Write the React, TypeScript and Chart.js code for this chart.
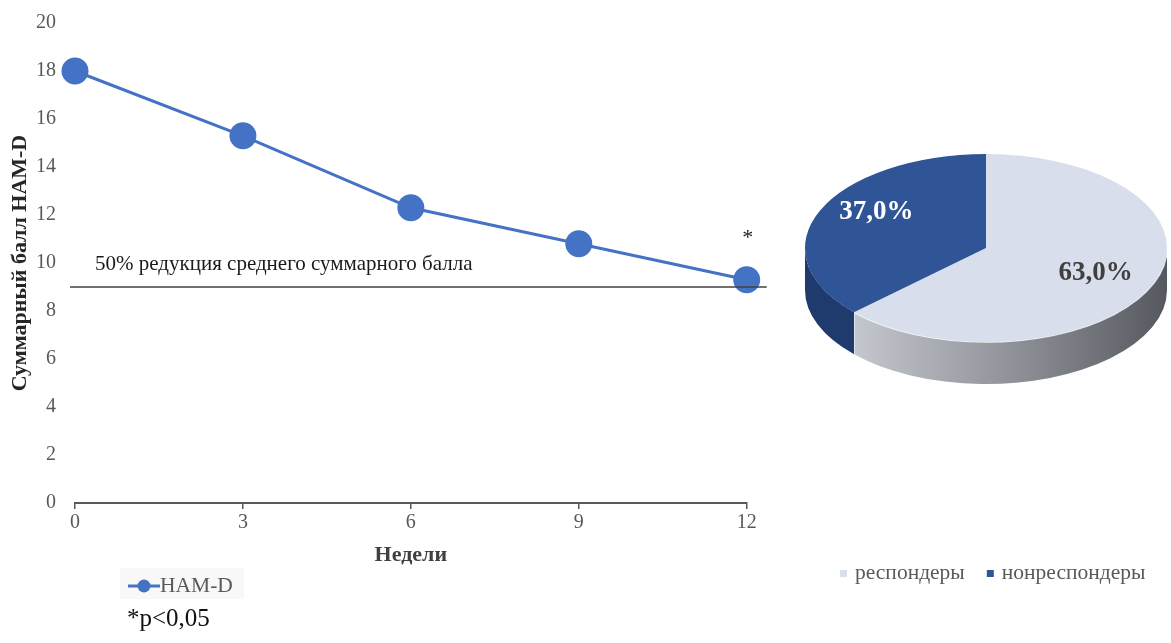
import { useEffect, useRef } from 'react';
import { Chart, registerables } from 'chart.js';

Chart.register(...registerables);

const SERIF = "'Liberation Serif', 'Times New Roman', serif";

// HAM-D total score by week of treatment
const weeks = ['0', '3', '6', '9', '12'];
const hamdScores = [18.0, 15.3, 12.3, 10.8, 9.3];
const halfReduction = 9.0; // 50% of the baseline mean score
const yMin = 0;
const yMax = 20;
const yStep = 2;

// Responders vs non-responders at week 12
const responseGroups = ['респондеры', 'нонреспондеры'];
const responseShares = [63.0, 37.0];

const BLUE = '#4472C4';
const GREY_TEXT = '#595959';
const pieTopColors = ['#d8deec', '#2f5597'];
const pieLabelColors = ['#404040', '#ffffff'];

// Reference line, its caption, the significance mark and the legend
const lineExtras = {
  id: 'lineExtras',
  afterDatasetsDraw(chart: any) {
    const { ctx, scales } = chart;
    const xs = scales.x;
    const ys = scales.y;
    const yRef = ys.getPixelForValue(halfReduction);
    const xStart = xs.getPixelForValue(0) - 5;
    const xEnd = xs.getPixelForValue(weeks.length - 1) + 20;
    ctx.save();
    ctx.strokeStyle = '#404040';
    ctx.lineWidth = 1.5;
    ctx.beginPath();
    ctx.moveTo(xStart, yRef);
    ctx.lineTo(xEnd, yRef);
    ctx.stroke();

    ctx.fillStyle = '#1a1a1a';
    ctx.font = `21px ${SERIF}`;
    ctx.textAlign = 'left';
    ctx.textBaseline = 'alphabetic';
    ctx.fillText('50% редукция среднего суммарного балла', xs.getPixelForValue(0) + 20, yRef - 17.5);

    const last = hamdScores.length - 1;
    ctx.textAlign = 'center';
    ctx.font = `22px ${SERIF}`;
    ctx.fillText('*', xs.getPixelForValue(last) + 1, ys.getPixelForValue(hamdScores[last]) - 36);
    ctx.restore();
  },
  afterDraw(chart: any) {
    const { ctx } = chart;
    const ds = chart.data.datasets[0];
    ctx.save();
    ctx.fillStyle = '#f8f8f8';
    ctx.fillRect(120, 568, 124, 31);
    ctx.strokeStyle = ds.borderColor;
    ctx.lineWidth = 3;
    ctx.beginPath();
    ctx.moveTo(128, 586);
    ctx.lineTo(160, 586);
    ctx.stroke();
    ctx.fillStyle = ds.backgroundColor;
    ctx.beginPath();
    ctx.arc(144, 586, 6.5, 0, Math.PI * 2);
    ctx.fill();
    ctx.fillStyle = GREY_TEXT;
    ctx.font = `21.5px ${SERIF}`;
    ctx.textAlign = 'left';
    ctx.textBaseline = 'alphabetic';
    ctx.fillText(ds.label, 160, 592);

    ctx.fillStyle = '#111111';
    ctx.font = `25px ${SERIF}`;
    ctx.fillText('*p<0,05', 127, 626);
    ctx.restore();
  },
};

// Tilted pie: squashes the arcs into an ellipse and adds the front wall
const pie3d = {
  id: 'pie3d',
  beforeDatasetsDraw(chart: any, _args: any, opts: any) {
    const { ctx } = chart;
    const arcs = chart.getDatasetMeta(0).data;
    if (!arcs.length) return;
    const { x: cx, y: cy, outerRadius: r } = arcs[0].getProps(['x', 'y', 'outerRadius'], true);
    const k = opts.tilt;
    const depth = opts.depth;
    const ry = r * k;
    ctx.save();
    arcs.forEach((arc: any, i: number) => {
      const { startAngle, endAngle } = arc.getProps(['startAngle', 'endAngle'], true);
      [-2 * Math.PI, 0, 2 * Math.PI].forEach((shift) => {
        const lo = Math.max(startAngle + shift, 0);
        const hi = Math.min(endAngle + shift, Math.PI);
        if (hi <= lo) return;
        ctx.beginPath();
        ctx.ellipse(cx, cy, r, ry, 0, lo, hi, false);
        ctx.ellipse(cx, cy + depth, r, ry, 0, hi, lo, true);
        ctx.closePath();
        if (i === 0) {
          const g = ctx.createLinearGradient(cx + r * Math.cos(hi), 0, cx + r * Math.cos(lo), 0);
          g.addColorStop(0, '#c4c7ce');
          g.addColorStop(0.55, '#8a8d94');
          g.addColorStop(1, '#55585e');
          ctx.fillStyle = g;
        } else {
          ctx.fillStyle = '#1f3b6d';
        }
        ctx.fill();
        if (i === 0) {
          // light rim along the top edge of the front wall
          ctx.strokeStyle = 'rgba(255,255,255,0.85)';
          ctx.lineWidth = 1.5;
          ctx.beginPath();
          ctx.ellipse(cx, cy, r, ry, 0, lo, hi, false);
          ctx.stroke();
          const bx = cx + r * Math.cos(hi);
          const by = cy + ry * Math.sin(hi);
          ctx.beginPath();
          ctx.moveTo(bx, by);
          ctx.lineTo(bx, by + depth);
          ctx.stroke();
        }
      });
    });
    ctx.translate(cx, cy);
    ctx.scale(1, k);
    ctx.translate(-cx, -cy);
  },
  afterDatasetsDraw(chart: any, _args: any, opts: any) {
    const { ctx } = chart;
    ctx.restore();
    const arcs = chart.getDatasetMeta(0).data;
    const values = chart.data.datasets[0].data;
    ctx.save();
    ctx.font = `bold 27px ${SERIF}`;
    ctx.textAlign = 'center';
    ctx.textBaseline = 'middle';
    arcs.forEach((arc: any, i: number) => {
      const { x, y, startAngle, endAngle, outerRadius } = arc.getProps(
        ['x', 'y', 'startAngle', 'endAngle', 'outerRadius'],
        true
      );
      const mid = (startAngle + endAngle) / 2;
      const f = 0.66;
      const lx = x + Math.cos(mid) * outerRadius * f;
      // labels on the far half sit a little higher, as in a perspective view
      const lift = Math.sin(mid) < 0 ? opts.backLift : 0;
      const ly = y + Math.sin(mid) * outerRadius * opts.tilt * f - lift;
      ctx.fillStyle = pieLabelColors[i];
      ctx.fillText(values[i].toFixed(1).replace('.', ',') + '%', lx, ly);
    });
    ctx.restore();
  },
  afterDraw(chart: any) {
    const { ctx } = chart;
    const labels = chart.data.labels;
    const colors = chart.data.datasets[0].backgroundColor;
    ctx.save();
    ctx.font = `21.5px ${SERIF}`;
    ctx.textAlign = 'left';
    ctx.textBaseline = 'alphabetic';
    let x = 50;
    labels.forEach((label: string, i: number) => {
      ctx.fillStyle = colors[i];
      ctx.fillRect(x, 570, 7, 7);
      ctx.fillStyle = GREY_TEXT;
      ctx.fillText(label, x + 15, 579);
      x += 15 + ctx.measureText(label).width + 22;
    });
    ctx.restore();
  },
};

export default function App() {
  const lineRef = useRef<HTMLCanvasElement>(null);
  const pieRef = useRef<HTMLCanvasElement>(null);

  useEffect(() => {
    Chart.defaults.font.family = SERIF;

    const lineChart = new Chart(lineRef.current as HTMLCanvasElement, {
      type: 'line',
      data: {
        labels: weeks,
        datasets: [
          {
            label: 'HAM-D',
            data: hamdScores,
            borderColor: BLUE,
            backgroundColor: BLUE,
            borderWidth: 3,
            pointRadius: 13.5,
            pointHoverRadius: 13.5,
            pointBorderWidth: 0,
            pointBackgroundColor: BLUE,
            tension: 0,
            clip: false,
          } as any,
        ],
      },
      options: {
        animation: false,
        responsive: false,
        events: [],
        layout: { padding: { left: 0, right: 43.3, top: 23, bottom: 74 } },
        plugins: { legend: { display: false }, tooltip: { enabled: false } },
        scales: {
          x: {
            type: 'category',
            offset: false,
            grid: {
              drawOnChartArea: false,
              drawTicks: true,
              tickLength: 6,
              color: GREY_TEXT,
              lineWidth: 1.5,
            },
            border: { display: true, color: GREY_TEXT, width: 2 },
            ticks: { color: GREY_TEXT, font: { size: 20, family: SERIF }, padding: 2, maxRotation: 0 },
            title: {
              display: true,
              text: 'Недели',
              color: '#404040',
              font: { size: 22, weight: 'bold', family: SERIF },
              padding: { top: 0, bottom: 0 },
            },
            afterFit(scale: any) {
              scale.height = 66;
              scale.paddingLeft = 0;
              scale.paddingRight = 0;
            },
          },
          y: {
            min: yMin,
            max: yMax,
            grid: { display: false, drawTicks: false },
            border: { display: false },
            ticks: { stepSize: yStep, color: GREY_TEXT, font: { size: 20, family: SERIF }, padding: 19 },
            title: {
              display: true,
              text: 'Суммарный балл HAM-D',
              color: '#262626',
              font: { size: 22, weight: 'bold', family: SERIF },
              padding: { top: 7.5, bottom: 0 },
            },
            afterFit(scale: any) {
              scale.width = 75;
              scale.paddingTop = 0;
              scale.paddingBottom = 0;
            },
          },
        },
      },
      plugins: [lineExtras],
    });

    const pieChart = new Chart(pieRef.current as HTMLCanvasElement, {
      type: 'pie',
      data: {
        labels: responseGroups,
        datasets: [
          {
            data: responseShares,
            backgroundColor: pieTopColors,
            borderWidth: 0,
          },
        ],
      },
      options: {
        animation: false,
        responsive: false,
        events: [],
        layout: { padding: { left: 15, right: 4, top: 67, bottom: 214 } },
        plugins: {
          legend: { display: false },
          tooltip: { enabled: false },
          pie3d: { tilt: 94 / 181, depth: 42, backLift: 11 },
        } as any,
      },
      plugins: [pie3d],
    });

    return () => {
      lineChart.destroy();
      pieChart.destroy();
    };
  }, []);

  return (
    <div
      style={{
        position: 'fixed',
        left: 0,
        top: 0,
        width: 1171,
        height: 643,
        background: '#ffffff',
        overflow: 'hidden',
      }}
    >
      <canvas ref={lineRef} width={790} height={643} style={{ position: 'absolute', left: 0, top: 0 }} />
      <canvas ref={pieRef} width={381} height={643} style={{ position: 'absolute', left: 790, top: 0 }} />
    </div>
  );
}
